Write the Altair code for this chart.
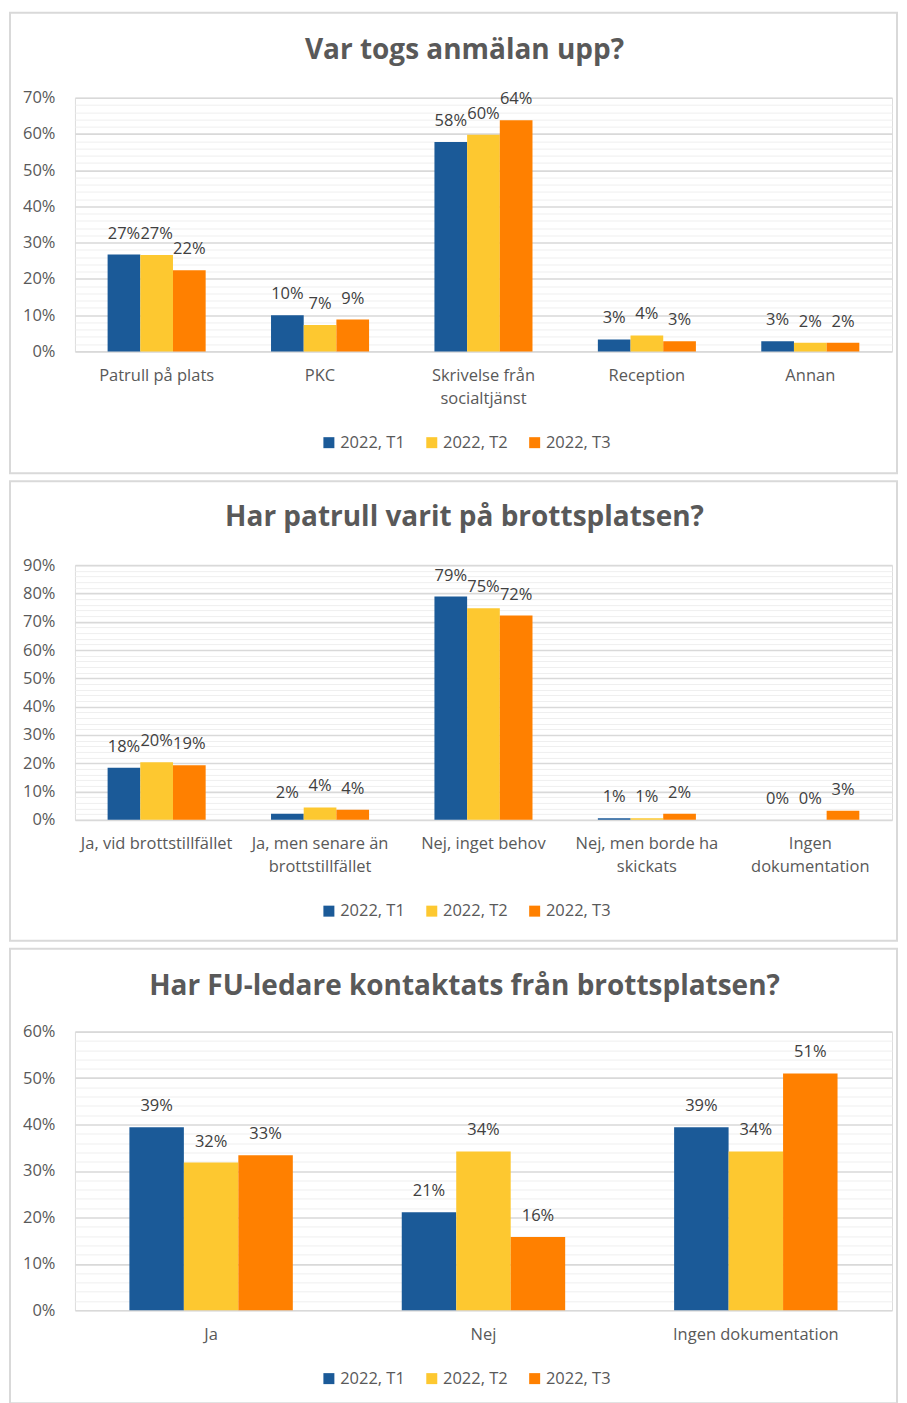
import altair as alt
import pandas as pd

series = ["2022, T1", "2022, T2", "2022, T3"]
colors = ["#1B5A98", "#FDC830", "#FF8000"]

# Panel 1
title1 = "Var togs anmälan upp?"
cats1 = ["Patrull på plats", "PKC", "Skrivelse från|socialtjänst", "Reception", "Annan"]
t1_1 = [26.7, 10.0, 57.8, 3.3, 2.8]
t2_1 = [26.6, 7.3, 59.8, 4.4, 2.4]
t3_1 = [22.4, 8.8, 63.8, 2.8, 2.4]
ymax1 = 70

# Panel 2
title2 = "Har patrull varit på brottsplatsen?"
cats2 = ["Ja, vid brottstillfället", "Ja, men senare än|brottstillfället", "Nej, inget behov",
         "Nej, men borde ha|skickats", "Ingen|dokumentation"]
t1_2 = [18.4, 2.2, 78.9, 0.6, 0.0]
t2_2 = [20.4, 4.4, 74.8, 0.6, 0.0]
t3_2 = [19.3, 3.6, 72.2, 2.2, 3.2]
ymax2 = 90

# Panel 3
title3 = "Har FU-ledare kontaktats från brottsplatsen?"
cats3 = ["Ja", "Nej", "Ingen dokumentation"]
t1_3 = [39.4, 21.1, 39.4]
t2_3 = [31.8, 34.2, 34.2]
t3_3 = [33.4, 15.8, 51.0]
ymax3 = 60

FONT = "Open Sans"
FS = 16.5
W = 818
PLOT_LEFT = 65  # from frame left to plot left


def make_df(cats, a, b, c):
    rows = []
    for i, cat in enumerate(cats):
        for s, vals in zip(series, [a, b, c]):
            rows.append({"cat": cat, "series": s, "v": vals[i]})
    return pd.DataFrame(rows)


def panel(title, cats, a, b, c, ymax, h, frame_top, frame_bottom, title_y, legend_y):
    df = make_df(cats, a, b, c)
    ticks = list(range(0, ymax + 1, 2))
    base = alt.Chart(df).transform_calculate(lbl="round(datum.v) + '%'")
    x = alt.X("cat:N", sort=cats, title=None,
              scale=alt.Scale(paddingInner=0.4, paddingOuter=0.2),
              axis=alt.Axis(labelAngle=0, ticks=False, domain=False,
                            labelExpr="split(datum.label, '|')",
                            labelFontSize=FS, labelColor="#595959", labelFont=FONT,
                            labelLineHeight=23, labelPadding=16, labelLimit=300))
    y = alt.Y("v:Q", title=None,
              scale=alt.Scale(domain=[0, ymax], nice=False),
              axis=alt.Axis(values=ticks, ticks=False, domain=False,
                            labelExpr="datum.value % 10 === 0 ? datum.value + '%' : ''",
                            labelFontSize=FS, labelColor="#595959", labelFont=FONT,
                            labelPadding=20,
                            gridColor=alt.condition("datum.value % 10 === 0",
                                                    alt.value("#D9D9D9"), alt.value("#EFEFEF")),
                            gridWidth=alt.condition("datum.value % 10 === 0",
                                                    alt.value(1.6), alt.value(1))))
    xo = alt.XOffset("series:N", sort=series, scale=alt.Scale(paddingInner=0))
    bars = base.mark_bar().encode(
        x=x, y=y, xOffset=xo,
        color=alt.Color("series:N", sort=series,
                        scale=alt.Scale(domain=series, range=colors),
                        legend=alt.Legend(title=None, orient="none", direction="horizontal",
                                          legendX=246, legendY=h + legend_y,
                                          symbolType="square", symbolSize=121,
                                          symbolStrokeWidth=0,
                                          labelFontSize=FS, labelColor="#595959",
                                          labelFont=FONT, columnPadding=18, labelOffset=3)),
    )
    labels = base.mark_text(baseline="bottom", dy=-13, fontSize=FS, color="#404040",
                            font=FONT).encode(
        x=x, y=y, xOffset=xo, text="lbl:N")
    frame = alt.Chart(alt.Data(values=[{"a": 1}])).mark_rect(
        filled=False, stroke="#D9D9D9", strokeWidth=2).encode(
        x=alt.value(-PLOT_LEFT), x2=alt.value(W + 5),
        y=alt.value(frame_top), y2=alt.value(h + frame_bottom))
    ttl = alt.Chart(alt.Data(values=[{"a": 1}])).mark_text(
        fontSize=28, fontWeight="bold", color="#595959", font=FONT,
        baseline="middle", align="center").encode(
        x=alt.value(390), y=alt.value(title_y), text=alt.value(title))
    return alt.layer(frame, bars, labels, ttl).properties(width=W, height=h)


p1 = panel(title1, cats1, t1_1, t2_1, t3_1, ymax1, 254, -85, 122, -47, 83)
p2 = panel(title2, cats2, t1_2, t2_2, t3_2, ymax2, 255, -84, 121, -47, 83)
p3 = panel(title3, cats3, t1_3, t2_3, t3_3, ymax3, 279, -83, 93, -45, 60)

chart = alt.vconcat(p1, p2, p3, spacing=4).resolve_scale(
    xOffset="independent", color="independent", x="independent", y="independent"
).resolve_legend(color="independent").properties(
    padding={"left": 0, "top": 2, "right": 0, "bottom": 0}
).configure_view(stroke=None).configure(background="white")

chart.save("out.html", embed_options={"renderer": "svg", "actions": False})
